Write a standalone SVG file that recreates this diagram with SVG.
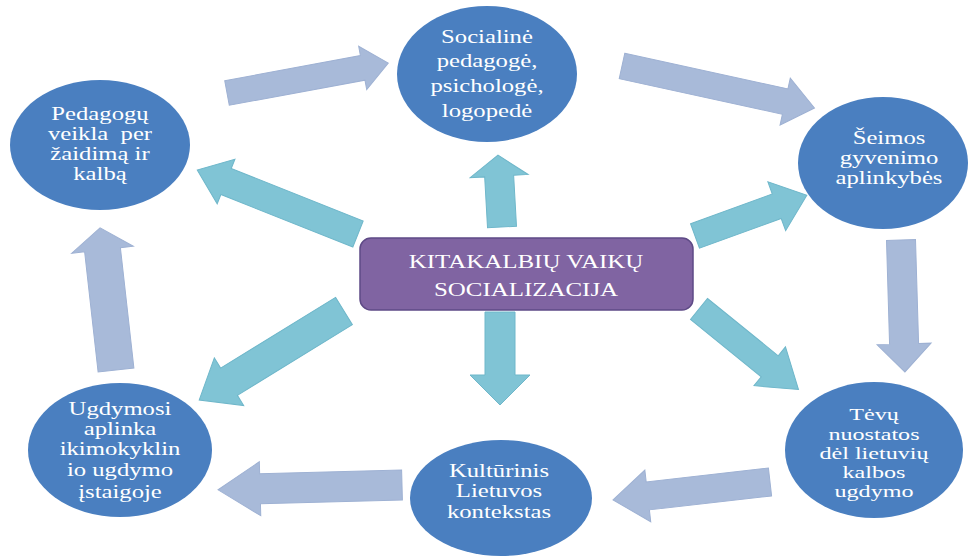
<svg xmlns="http://www.w3.org/2000/svg" width="971" height="558" viewBox="0 0 971 558">
<style>
.node{fill:#4a7fc0;}
.lbl{fill:#ffffff;font-family:"Liberation Serif","Times New Roman",serif;font-size:19px;text-anchor:middle;}
.sm{font-size:17px;}
.cyc{fill:#a8bad9;stroke:#9eb1d3;stroke-width:1;}
.spk{fill:#80c4d5;stroke:#6fb7ca;stroke-width:1;}
.center{fill:#8064a2;stroke:#5e4a86;stroke-width:1.5;}
</style>
<rect width="971" height="558" fill="#ffffff"/>
<g id="connectors">
<polygon class="cyc" transform="translate(227,93) rotate(-10.5)" points="0,-12.5 138,-12.5 138,-22 164,0 138,22 138,12.5 0,12.5"/>
<polygon class="cyc" transform="translate(622,66) rotate(12.3)" points="0,-13 167,-13 167,-24 197,0 167,24 167,13 0,13"/>
<polygon class="cyc" transform="translate(901,240) rotate(88.3)" points="0,-14.5 104,-14.5 104,-27 132,0 104,27 104,14.5 0,14.5"/>
<polygon class="cyc" transform="translate(770,482) rotate(173.5)" points="0,-14 123,-14 123,-26 158,0 123,26 123,14 0,14"/>
<polygon class="cyc" transform="translate(402,485) rotate(178.5)" points="0,-15 142,-15 142,-27 184,0 142,27 142,15 0,15"/>
<polygon class="cyc" transform="translate(116,370) rotate(-96.4)" points="0,-18 121,-18 121,-31 143,0 121,31 121,18 0,18"/>
<polygon class="spk" transform="translate(502,227) rotate(-93.2)" points="0,-14.5 51,-14.5 51,-29 72,0 51,29 51,14.5 0,14.5"/>
<polygon class="spk" transform="translate(358,234) rotate(-158.3)" points="0,-14 142,-14 142,-24 173,0 142,24 142,14 0,14"/>
<polygon class="spk" transform="translate(695,236) rotate(-20)" points="0,-13 87,-13 87,-26 119,0 87,26 87,13 0,13"/>
<polygon class="spk" transform="translate(699,309) rotate(39)" points="0,-13.5 91,-13.5 91,-25 128,0 91,25 91,13.5 0,13.5"/>
<polygon class="spk" transform="translate(500,312) rotate(90)" points="0,-15 63,-15 63,-30 93,0 63,30 63,15 0,15"/>
<polygon class="spk" transform="translate(344,311) rotate(148.4)" points="0,-16 135,-16 135,-28 170,0 135,28 135,16 0,16"/>
</g>
<g id="center">
<rect class="center" x="360" y="238" width="333" height="72" rx="11"/>
<text class="lbl" transform="translate(526,0) scale(1.28,1)" style="font-size:19.5px"><tspan x="0" y="268">KITAKALBIŲ VAIKŲ</tspan><tspan x="0" y="296">SOCIALIZACIJA</tspan></text>
</g>
<g id="n-social">
<ellipse class="node" cx="487" cy="74" rx="90" ry="68"/>
<text class="lbl" transform="translate(487,0) scale(1.3,1)"><tspan x="0" y="43">Socialinė</tspan><tspan x="0" y="67">pedagogė,</tspan><tspan x="0" y="92">psichologė,</tspan><tspan x="0" y="117">logopedė</tspan></text>
</g>
<g id="n-pedagogu">
<ellipse class="node" cx="100" cy="145" rx="90" ry="65"/>
<text class="lbl" transform="translate(100,0) scale(1.3,1)"><tspan x="0" y="120">Pedagogų</tspan><tspan x="0" y="140">veikla&#160; per</tspan><tspan x="0" y="160">žaidimą ir</tspan><tspan x="0" y="180">kalbą</tspan></text>
</g>
<g id="n-seimos">
<ellipse class="node" cx="883" cy="163" rx="85" ry="66"/>
<text class="lbl" transform="translate(889,0) scale(1.3,1)"><tspan x="0" y="144">Šeimos</tspan><tspan x="0" y="164">gyvenimo</tspan><tspan x="0" y="184">aplinkybės</tspan></text>
</g>
<g id="n-tevu">
<ellipse class="node" cx="874" cy="450" rx="89" ry="68"/>
<text class="lbl sm" transform="translate(874,0) scale(1.42,1)"><tspan x="0" y="420">Tėvų</tspan><tspan x="0" y="440">nuostatos</tspan><tspan x="0" y="459">dėl lietuvių</tspan><tspan x="0" y="478">kalbos</tspan><tspan x="0" y="497">ugdymo</tspan></text>
</g>
<g id="n-kulturinis">
<ellipse class="node" cx="501" cy="498" rx="91" ry="58"/>
<text class="lbl" transform="translate(499,0) scale(1.3,1)"><tspan x="0" y="477">Kultūrinis</tspan><tspan x="0" y="497">Lietuvos</tspan><tspan x="0" y="518">kontekstas</tspan></text>
</g>
<g id="n-ugdymosi">
<ellipse class="node" cx="120" cy="450" rx="92" ry="67"/>
<text class="lbl" transform="translate(120,0) scale(1.3,1)"><tspan x="0" y="415">Ugdymosi</tspan><tspan x="0" y="435">aplinka</tspan><tspan x="0" y="455">ikimokyklin</tspan><tspan x="0" y="476">io ugdymo</tspan><tspan x="0" y="498">įstaigoje</tspan></text>
</g>
</svg>
